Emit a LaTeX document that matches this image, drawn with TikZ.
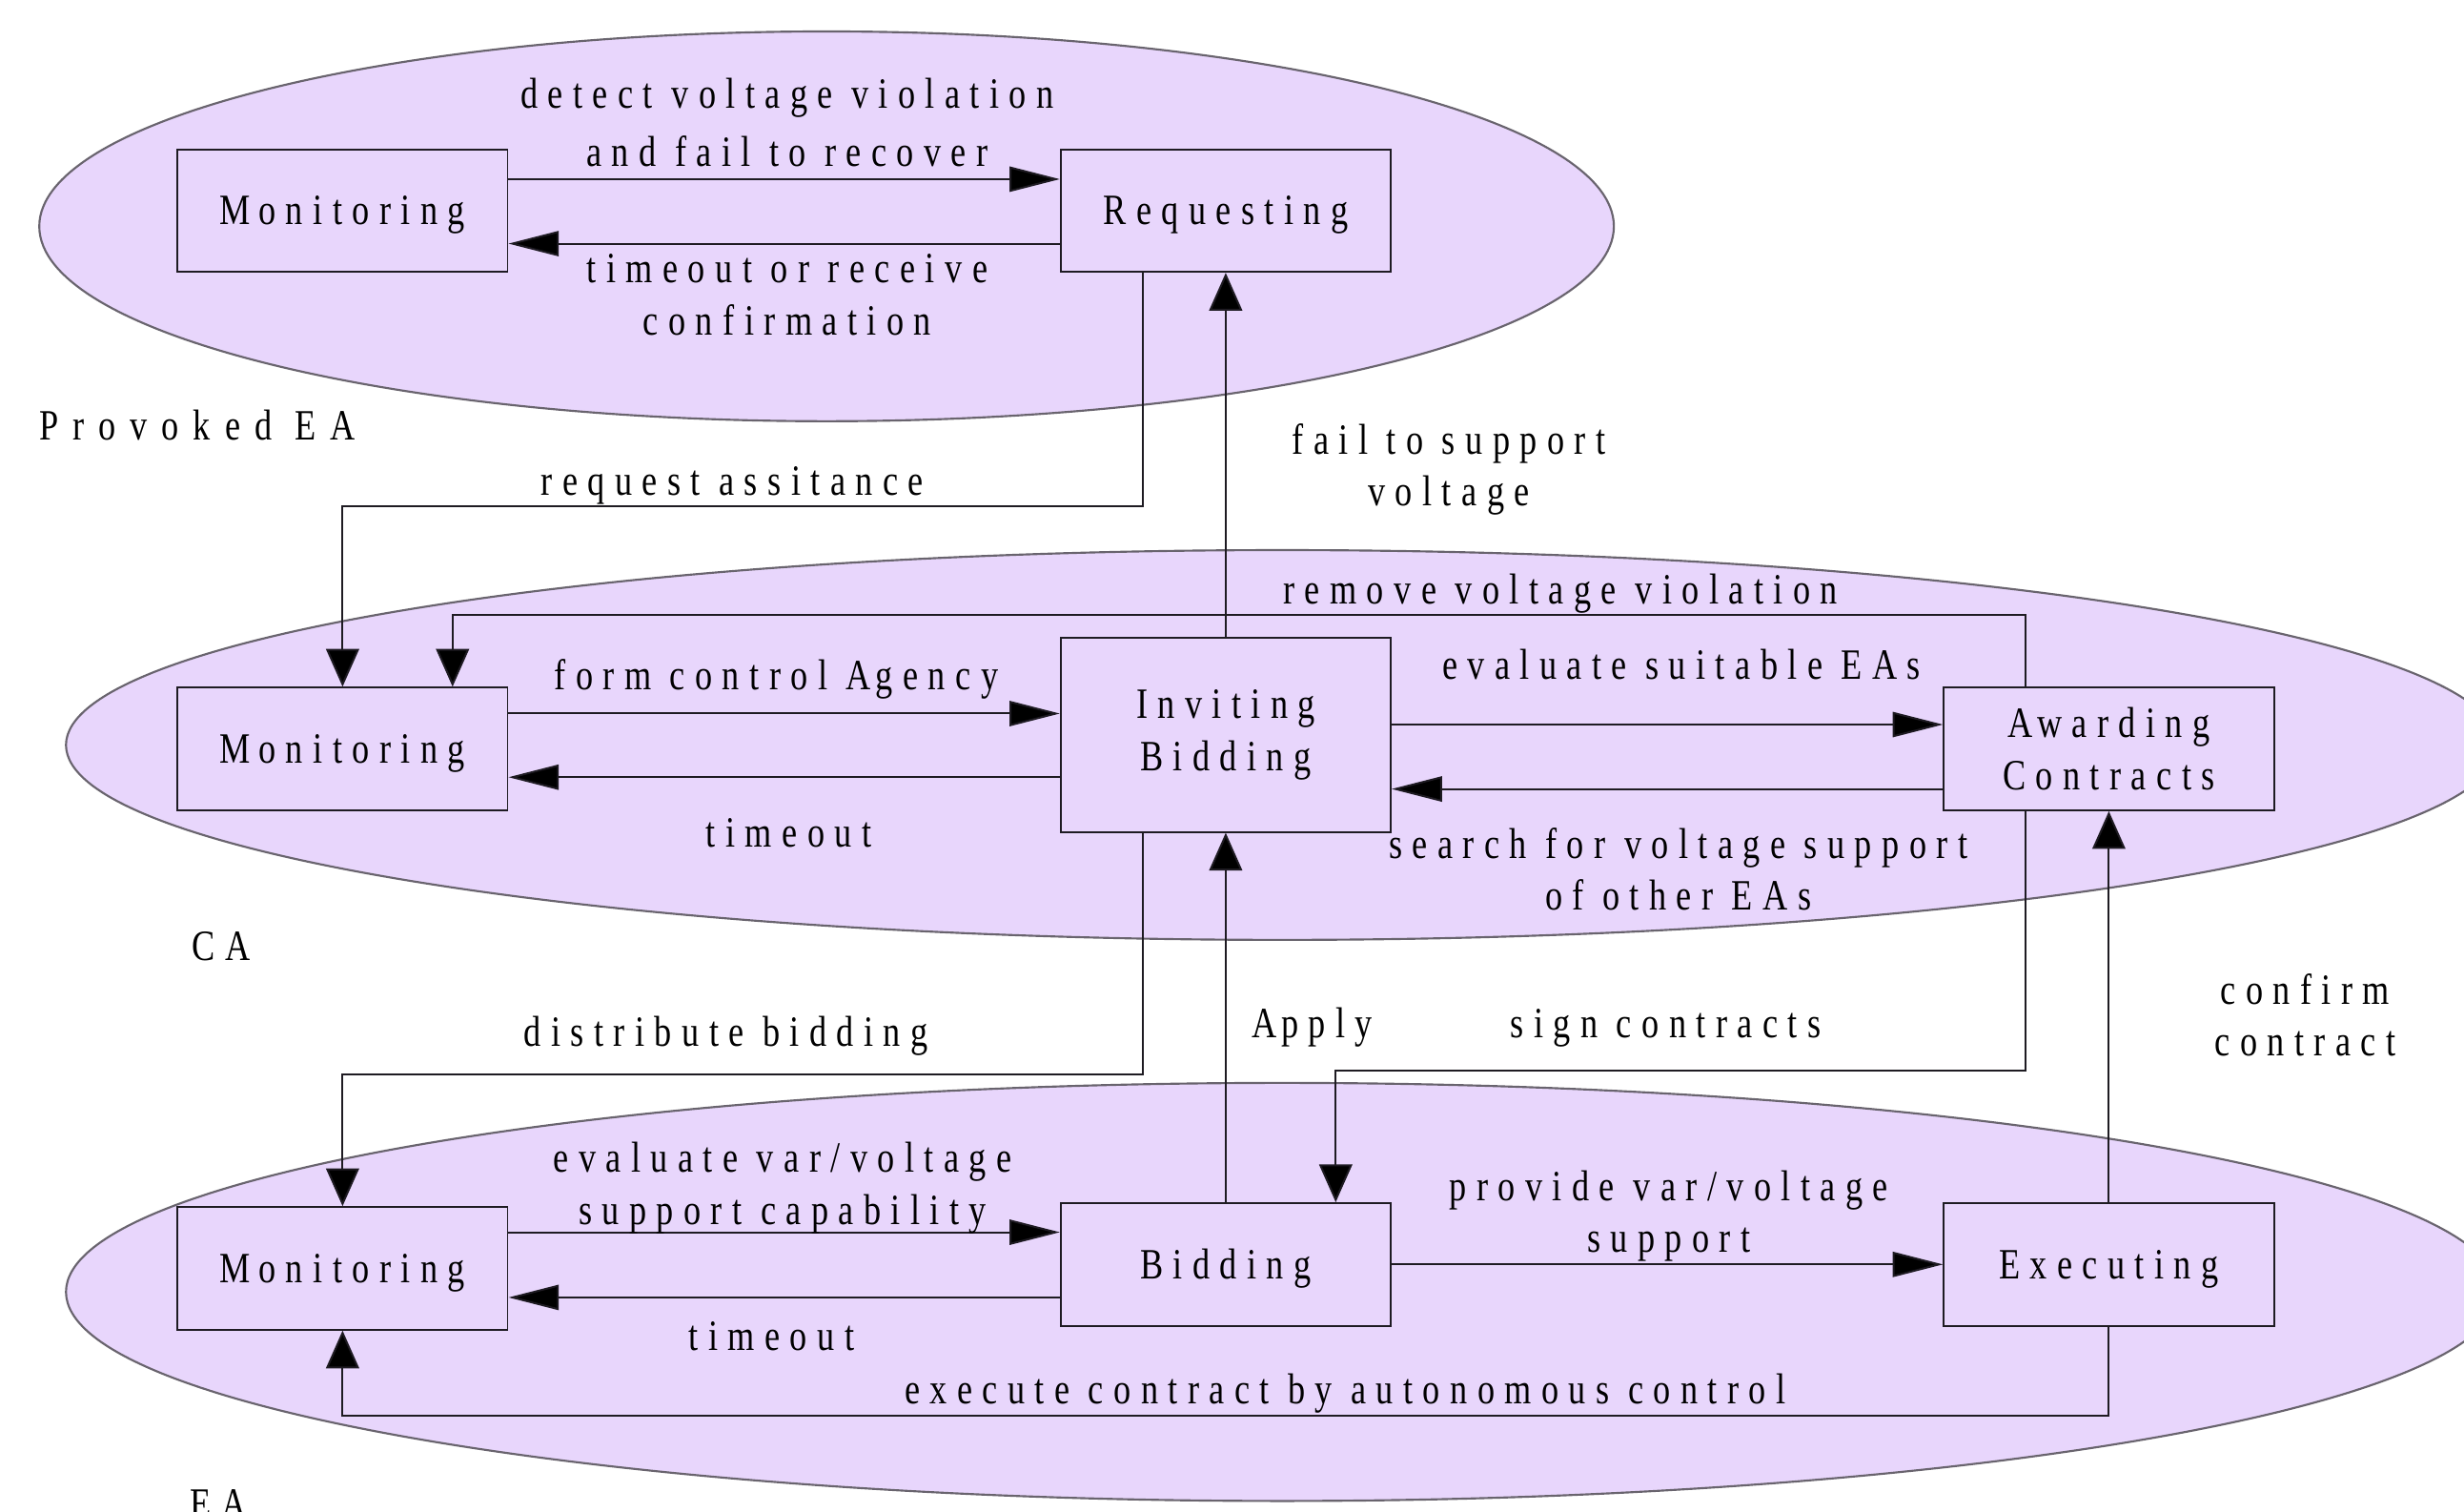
\documentclass[tikz,border=0pt]{standalone}
\usepackage{fontspec}
\setmainfont{Liberation Serif}[FakeStretch=0.8,LetterSpace=23]
\usetikzlibrary{arrows.meta,calc}
\definecolor{lav}{RGB}{232,214,252}
\definecolor{rim}{RGB}{105,100,110}
\definecolor{ink}{RGB}{30,27,34}
\newcommand\dgfont{\fontsize{27.5}{33}\selectfont}
\begin{document}
\begin{tikzpicture}[x=1pt,y=-1pt,
  zone/.style={draw=rim,line width=1.3pt,fill=lav},
  state/.style={draw=ink,line width=1.2pt,fill=lav,minimum width=210pt,
    minimum height=78pt,inner sep=0pt,align=center,font=\dgfont},
  oneline/.style={text height=18.2pt,text depth=0pt},
  harr/.style={draw=ink,line width=1.2pt,-{Triangle[length=32pt,width=16pt,fill=black]}},
  varr/.style={draw=ink,line width=1.2pt,-{Triangle[length=24pt,width=21pt,fill=black]}},
  lab/.style={inner sep=0pt,anchor=base,align=center,font=\dgfont},
  tag/.style={inner sep=0pt,anchor=base west,font=\dgfont},
]
% canvas
\fill[white] (0,0) rectangle (1568,962);
\useasboundingbox (0,0) rectangle (1568,962);

% agent regions
\path[zone] (526,144) ellipse [x radius=501, y radius=124];
\path[zone] (816,474) ellipse [x radius=774, y radius=124];
\path[zone] (816,822) ellipse [x radius=774, y radius=133];

% states
\node[state,oneline] (mP) at (218,134) {M\kern5pt onitoring};
\node[state,oneline] (rq) at (780,134) {Requesting};
\node[state,oneline] (mC) at (218,476.5) {M\kern5pt onitoring};
\node[state,minimum height=123.5pt] (ib) at (780,467.5) {Inviting\\Bidding};
\node[state] (aw) at (1342,476.5) {A\kern3pt warding\\Contracts};
\node[state,oneline] (mE) at (218,807) {M\kern5pt onitoring};
\node[state,oneline] (bd) at (780,804.5) {Bidding};
\node[state,oneline] (ex) at (1342,804.5) {Executing};

% bend points
\coordinate (kReq) at (727,322);
\coordinate (kRem) at (1289,391.5);
\coordinate (kRemIn) at ($(mC.north)+(70,0)$);
\coordinate (kDis) at (727,683.5);
\coordinate (kSig) at (1289,681);
\coordinate (kSigIn) at ($(bd.north)+(70,0)$);
\coordinate (kExe) at (1342,901);

% provoked EA
\draw[harr] ($(mP.east)+(0,-20)$) -- ($(rq.west)+(0,-20)$);
\draw[harr] ($(rq.west)+(0,21)$) -- ($(mP.east)+(0,21)$);
\draw[varr] (rq.south -| kReq) -- (kReq) -| (mC.north);
\draw[varr] (ib.north) -- (rq.south);

% CA
\draw[varr] (aw.north -| kRem) -- (kRem) -| (kRemIn);
\draw[harr] ($(mC.east)+(0,-22.5)$) -- ($(ib.west)+(0,-13.5)$);
\draw[harr] ($(ib.west)+(0,27)$) -- ($(mC.east)+(0,18)$);
\draw[harr] ($(ib.east)+(0,-6.5)$) -- ($(aw.west)+(0,-15.5)$);
\draw[harr] ($(aw.west)+(0,25.5)$) -- ($(ib.east)+(0,34.5)$);
\draw[varr] (ib.south -| kDis) -- (kDis) -| (mE.north);
\draw[varr] (bd.north) -- (ib.south);
\draw[varr] (aw.south -| kSig) -- (kSig) -| (kSigIn);
\draw[varr] (ex.north) -- (aw.south);

% EA
\draw[harr] ($(mE.east)+(0,-23)$) -- ($(bd.west)+(0,-20.5)$);
\draw[harr] ($(bd.west)+(0,21)$) -- ($(mE.east)+(0,18.5)$);
\draw[harr] (bd.east) -- (ex.west);
\draw[varr] (ex.south) -- (kExe) -| (mE.south);

% transition labels (two-line labels sit on the baseline of their last line)
\node[lab] (tDetect) at (501,106) {detect voltage violation\\[4pt]and fail to recover};
\node[lab] (tTimeP) at (501,213) {timeout or receive\\confirmation};
\node[lab] (tReq) at (466,315) {request assitance};
\node[lab] (tFail) at (922,322) {fail to support\\voltage};
\node[lab] (tRem) at (993,384) {remove voltage violation};
\node[lab] (tForm) at (494,439) {form control A\kern3pt gency};
\node[lab] (tTimeC) at (502,539) {timeout};
\node[lab] (tEval) at (1070,432) {evaluate suitable EAs};
\node[lab] (tSearch) at (1068,579) {search for voltage support\\of other EAs};
\node[lab] (tDist) at (462,666) {distribute bidding};
\node[lab] (tApply) at (835,660) {A\kern3pt pply};
\node[lab] (tSign) at (1060,660) {sign contracts};
\node[lab] (tConf) at (1467,672) {confirm\\contract};
\node[lab] (tCap) at (498,779) {evaluate var/voltage\\support capability};
\node[lab] (tTimeE) at (491,859) {timeout};
\node[lab] (tProv) at (1062,797) {provide var/voltage\\support};
\node[lab] (tExec) at (856,893) {execute contract by autonomous control};

% agent names
\node[tag] (nProv) at (25,280) {\addfontfeatures{LetterSpace=33}Provoked EA};
\node[tag] (nCA) at (122,611) {CA};
\node[tag] (nEA) at (121,966) {EA};
\end{tikzpicture}
\end{document}
